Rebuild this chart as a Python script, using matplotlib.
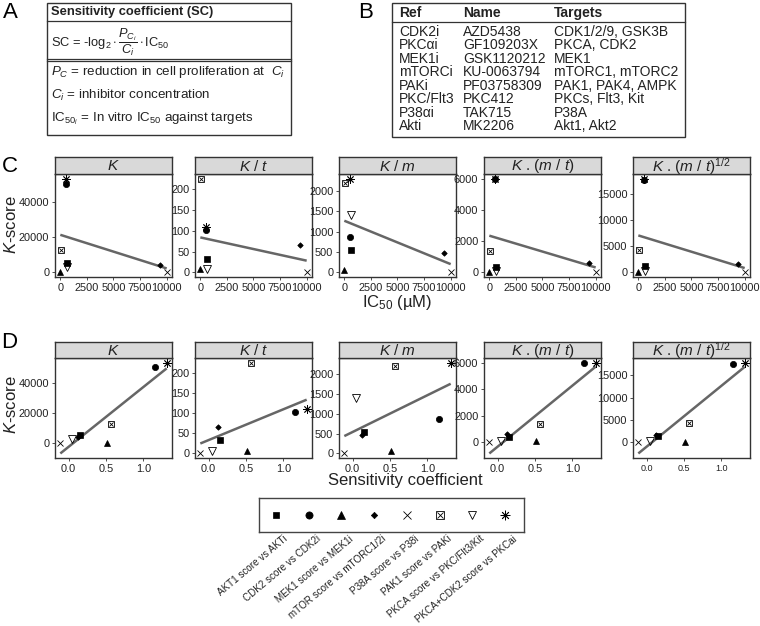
import numpy as np
import matplotlib
matplotlib.use("Agg")
import matplotlib.pyplot as plt

plt.rcParams['font.family'] = ['Liberation Sans', 'DejaVu Sans']
plt.rcParams['mathtext.fontset'] = 'custom'
plt.rcParams['mathtext.rm'] = 'Liberation Sans'
plt.rcParams['mathtext.it'] = 'Liberation Sans:italic'
plt.rcParams['mathtext.bf'] = 'Liberation Sans:bold'

# ---------------- data ----------------
series = ['AKT1 score vs AKTi', 'CDK2 score vs CDK2i', 'MEK1 score vs MEK1i',
          'mTOR score vs mTORC1/2i', 'P38A score vs P38i', 'PAK1 score vs PAKi',
          'PKCA score vs PKC/Flt3/Kit', 'PKCA+CDK2 score vs PKCai']
ic50 = [620, 560, 10, 9350, 10000, 30, 600, 560]
sens_coef = [0.15, 1.16, 0.51, 0.12, -0.11, 0.56, 0.04, 1.31]

k_score = [5500, 50500, 300, 4200, 0, 13000, 2800, 53500]
k_per_t = [33, 102, 7, 66, 0, 225, 7, 110]
k_per_m = [540, 860, 55, 470, 0, 2200, 1400, 2300]
k_m_t = [360, 6000, 40, 600, 0, 1380, 60, 6050]
k_m_t_sqrt = [1300, 17600, 100, 1550, 0, 4200, 250, 17900]

metrics = [k_score, k_per_t, k_per_m, k_m_t, k_m_t_sqrt]
facet_titles = [r'$K$', r'$K$ / $t$', r'$K$ / $m$', r'$K$ . ($m$ / $t$)',
                r'$K$ . ($m$ / $t$)$^{1/2}$']
yticks = [[0, 20000, 40000], [0, 50, 100, 150, 200], [0, 500, 1000, 1500, 2000],
          [0, 2000, 4000, 6000], [0, 5000, 10000, 15000]]
ic50_ticks = [0, 2500, 5000, 7500, 10000]
sc_ticks = [0.0, 0.5, 1.0]
sc_ticklabels = ['0.0', '0.5', '1.0']

table_header = ['Ref', 'Name', 'Targets']
table_ref = ['CDK2i', 'PKCαi', 'MEK1i', 'mTORCi', 'PAKi', 'PKC/Flt3', 'P38αi', 'Akti']
table_name = ['AZD5438', 'GF109203X', 'GSK1120212', 'KU-0063794', 'PF03758309',
              'PKC412', 'TAK715', 'MK2206']
table_targets = ['CDK1/2/9, GSK3B', 'PKCA, CDK2', 'MEK1', 'mTORC1, mTORC2',
                 'PAK1, PAK4, AMPK', 'PKCs, Flt3, Kit', 'P38A', 'Akt1, Akt2']

# ---------------- figure ----------------
W, H = 760, 626
fig = plt.figure(figsize=(W / 100, H / 100), dpi=100)


def px_axes(l, t, r, b):
    return fig.add_axes([l / W, 1 - b / H, (r - l) / W, (b - t) / H])


ink = '#222222'
spine_c = '#333333'

# overlay for panels A/B and letters
ov = fig.add_axes([0, 0, 1, 1])
ov.set_xlim(0, W)
ov.set_ylim(H, 0)
ov.axis('off')

for letter, (lx, ly) in zip('ABCD', [(3, 13), (358, 13), (2, 166), (1, 343)]):
    ov.text(lx, ly, letter, fontsize=16, va='center', ha='left', color='black')

# Panel A box
ov.add_patch(plt.Rectangle((47, 3), 244, 132, fill=False, lw=1.0, ec=spine_c))
ov.plot([47, 291], [21, 21], color=spine_c, lw=0.9)
ov.plot([47, 291], [58.5, 58.5], color=spine_c, lw=0.9)
ov.plot([47, 291], [60.8, 60.8], color=spine_c, lw=0.9)
ov.text(51, 12, 'Sensitivity coefficient (SC)', fontsize=9.3, fontweight='bold',
        va='center', ha='left', color=ink)
ov.text(51, 42, r'SC = -log$_2\cdot\dfrac{P_{C_i}}{C_i}\cdot$IC$_{50}$', fontsize=9.3,
        va='center', ha='left', color=ink)
ov.text(51, 72, r'$P_C$ = reduction in cell proliferation at  $C_i$', fontsize=9.6,
        va='center', ha='left', color=ink)
ov.text(51, 95, r'$C_i$ = inhibitor concentration', fontsize=9.6,
        va='center', ha='left', color=ink)
ov.text(51, 119, r'IC$_{50_i}$ = In vitro IC$_{50}$ against targets', fontsize=9.6,
        va='center', ha='left', color=ink)

# Panel B table
ov.add_patch(plt.Rectangle((392, 3), 293, 134, fill=False, lw=1.0, ec=spine_c))
ov.plot([392, 685], [22, 22], color=spine_c, lw=0.9)
col_x = [399, 463, 554]
for cx, h in zip(col_x, table_header):
    ov.text(cx, 13, h, fontsize=10, fontweight='bold', va='center', ha='left', color=ink)
for r, (a, b, c) in enumerate(zip(table_ref, table_name, table_targets)):
    yy = 31.7 + r * 13.5
    for cx, s in zip(col_x, (a, b, c)):
        ov.text(cx, yy, s, fontsize=10, va='center', ha='left', color=ink)

# marker styles
styles = [
    [dict(marker='s', ms=4.2, mfc='black', mec='black', mew=0.5)],
    [dict(marker='o', ms=4.5, mfc='black', mec='black', mew=0.5)],
    [dict(marker='^', ms=5.0, mfc='black', mec='black', mew=0.5)],
    [dict(marker='D', ms=2.8, mfc='black', mec='black', mew=0.5)],
    [dict(marker='x', ms=4.5, mec='black', mew=0.6)],
    [dict(marker='s', ms=4.6, mfc='none', mec='black', mew=0.6),
     dict(marker='x', ms=3.2, mec='black', mew=0.6)],
    [dict(marker='v', ms=5.5, mfc='none', mec='black', mew=0.6)],
    [dict(marker=(8, 2, 0), ms=6.0, mec='black', mew=0.6)],
]


def draw_pts(ax, xs, ys, scale=1.0):
    for i, (x, y) in enumerate(zip(xs, ys)):
        for st in styles[i]:
            st2 = dict(st)
            st2['ms'] = st['ms'] * scale
            ax.plot([x], [y], linestyle='none', zorder=3, **st2)


lefts = [55, 195, 339, 484, 633]
pw = 117
rows = [
    dict(x=ic50, top=157, sb=174, bot=277, xt=ic50_ticks, xtl=[str(v) for v in ic50_ticks]),
    dict(x=sens_coef, top=342, sb=358, bot=458, xt=sc_ticks, xtl=sc_ticklabels),
]

for ri, row in enumerate(rows):
    for j in range(5):
        l = lefts[j]
        ax = px_axes(l, row['sb'], l + pw, row['bot'])
        sax = px_axes(l, row['top'], l + pw, row['sb'])
        sax.set_xticks([])
        sax.set_yticks([])
        sax.set_facecolor('#d9d9d9')
        for sp in sax.spines.values():
            sp.set_color(spine_c)
            sp.set_linewidth(1.0)
        sax.text(0.5, 0.45, facet_titles[j], transform=sax.transAxes, ha='center',
                 va='center', fontsize=11, color=ink)

        xs = np.array(row['x'], dtype=float)
        ys = np.array(metrics[j], dtype=float)
        coef = np.polyfit(xs, ys, 1)
        xl = np.array([xs.min(), xs.max()])
        ax.plot(xl, np.polyval(coef, xl), color='#666666', lw=1.8, zorder=2,
                solid_capstyle='butt')
        draw_pts(ax, xs, ys)
        ax.set_xticks(row['xt'])
        small = (ri == 1 and j == 4)
        ax.set_xticklabels(row['xtl'], fontsize=6.5 if small else 7.9, color=ink)
        ax.set_yticks(yticks[j])
        ax.set_yticklabels([str(v) for v in yticks[j]], fontsize=7.9, color=ink)
        ax.tick_params(length=2.5, width=0.6, pad=1.5, colors=spine_c)
        for t in ax.get_xticklabels() + ax.get_yticklabels():
            t.set_color(ink)
        for sp in ax.spines.values():
            sp.set_color(spine_c)
            sp.set_linewidth(1.0)

# axis titles
ov.text(11, 225, r'$K$-score', rotation=90, fontsize=12, ha='center', va='center', color=ink)
ov.text(11, 405, r'$K$-score', rotation=90, fontsize=12, ha='center', va='center', color=ink)
ov.text(397, 302, r'IC$_{50}$ (µM)', fontsize=12, ha='center', va='center', color=ink)
ov.text(405, 481, 'Sensitivity coefficient', fontsize=12, ha='center', va='center', color=ink)

# legend
lax = px_axes(259, 498, 524, 532)
lax.set_xlim(-0.52, 7.58)
lax.set_ylim(0, 1)
lax.set_xticks([])
lax.set_yticks([])
for sp in lax.spines.values():
    sp.set_color('#444444')
    sp.set_linewidth(1.0)
draw_pts(lax, list(range(len(series))), [0.5] * len(series), scale=1.15)
for i, s in enumerate(series):
    lax.text(i + 0.22, -0.05, s, rotation=40, ha='right', va='top', rotation_mode='anchor',
             fontsize=7.1, color=ink, transform=lax.get_xaxis_transform(), clip_on=False)

fig.savefig('out.png', dpi=100)
